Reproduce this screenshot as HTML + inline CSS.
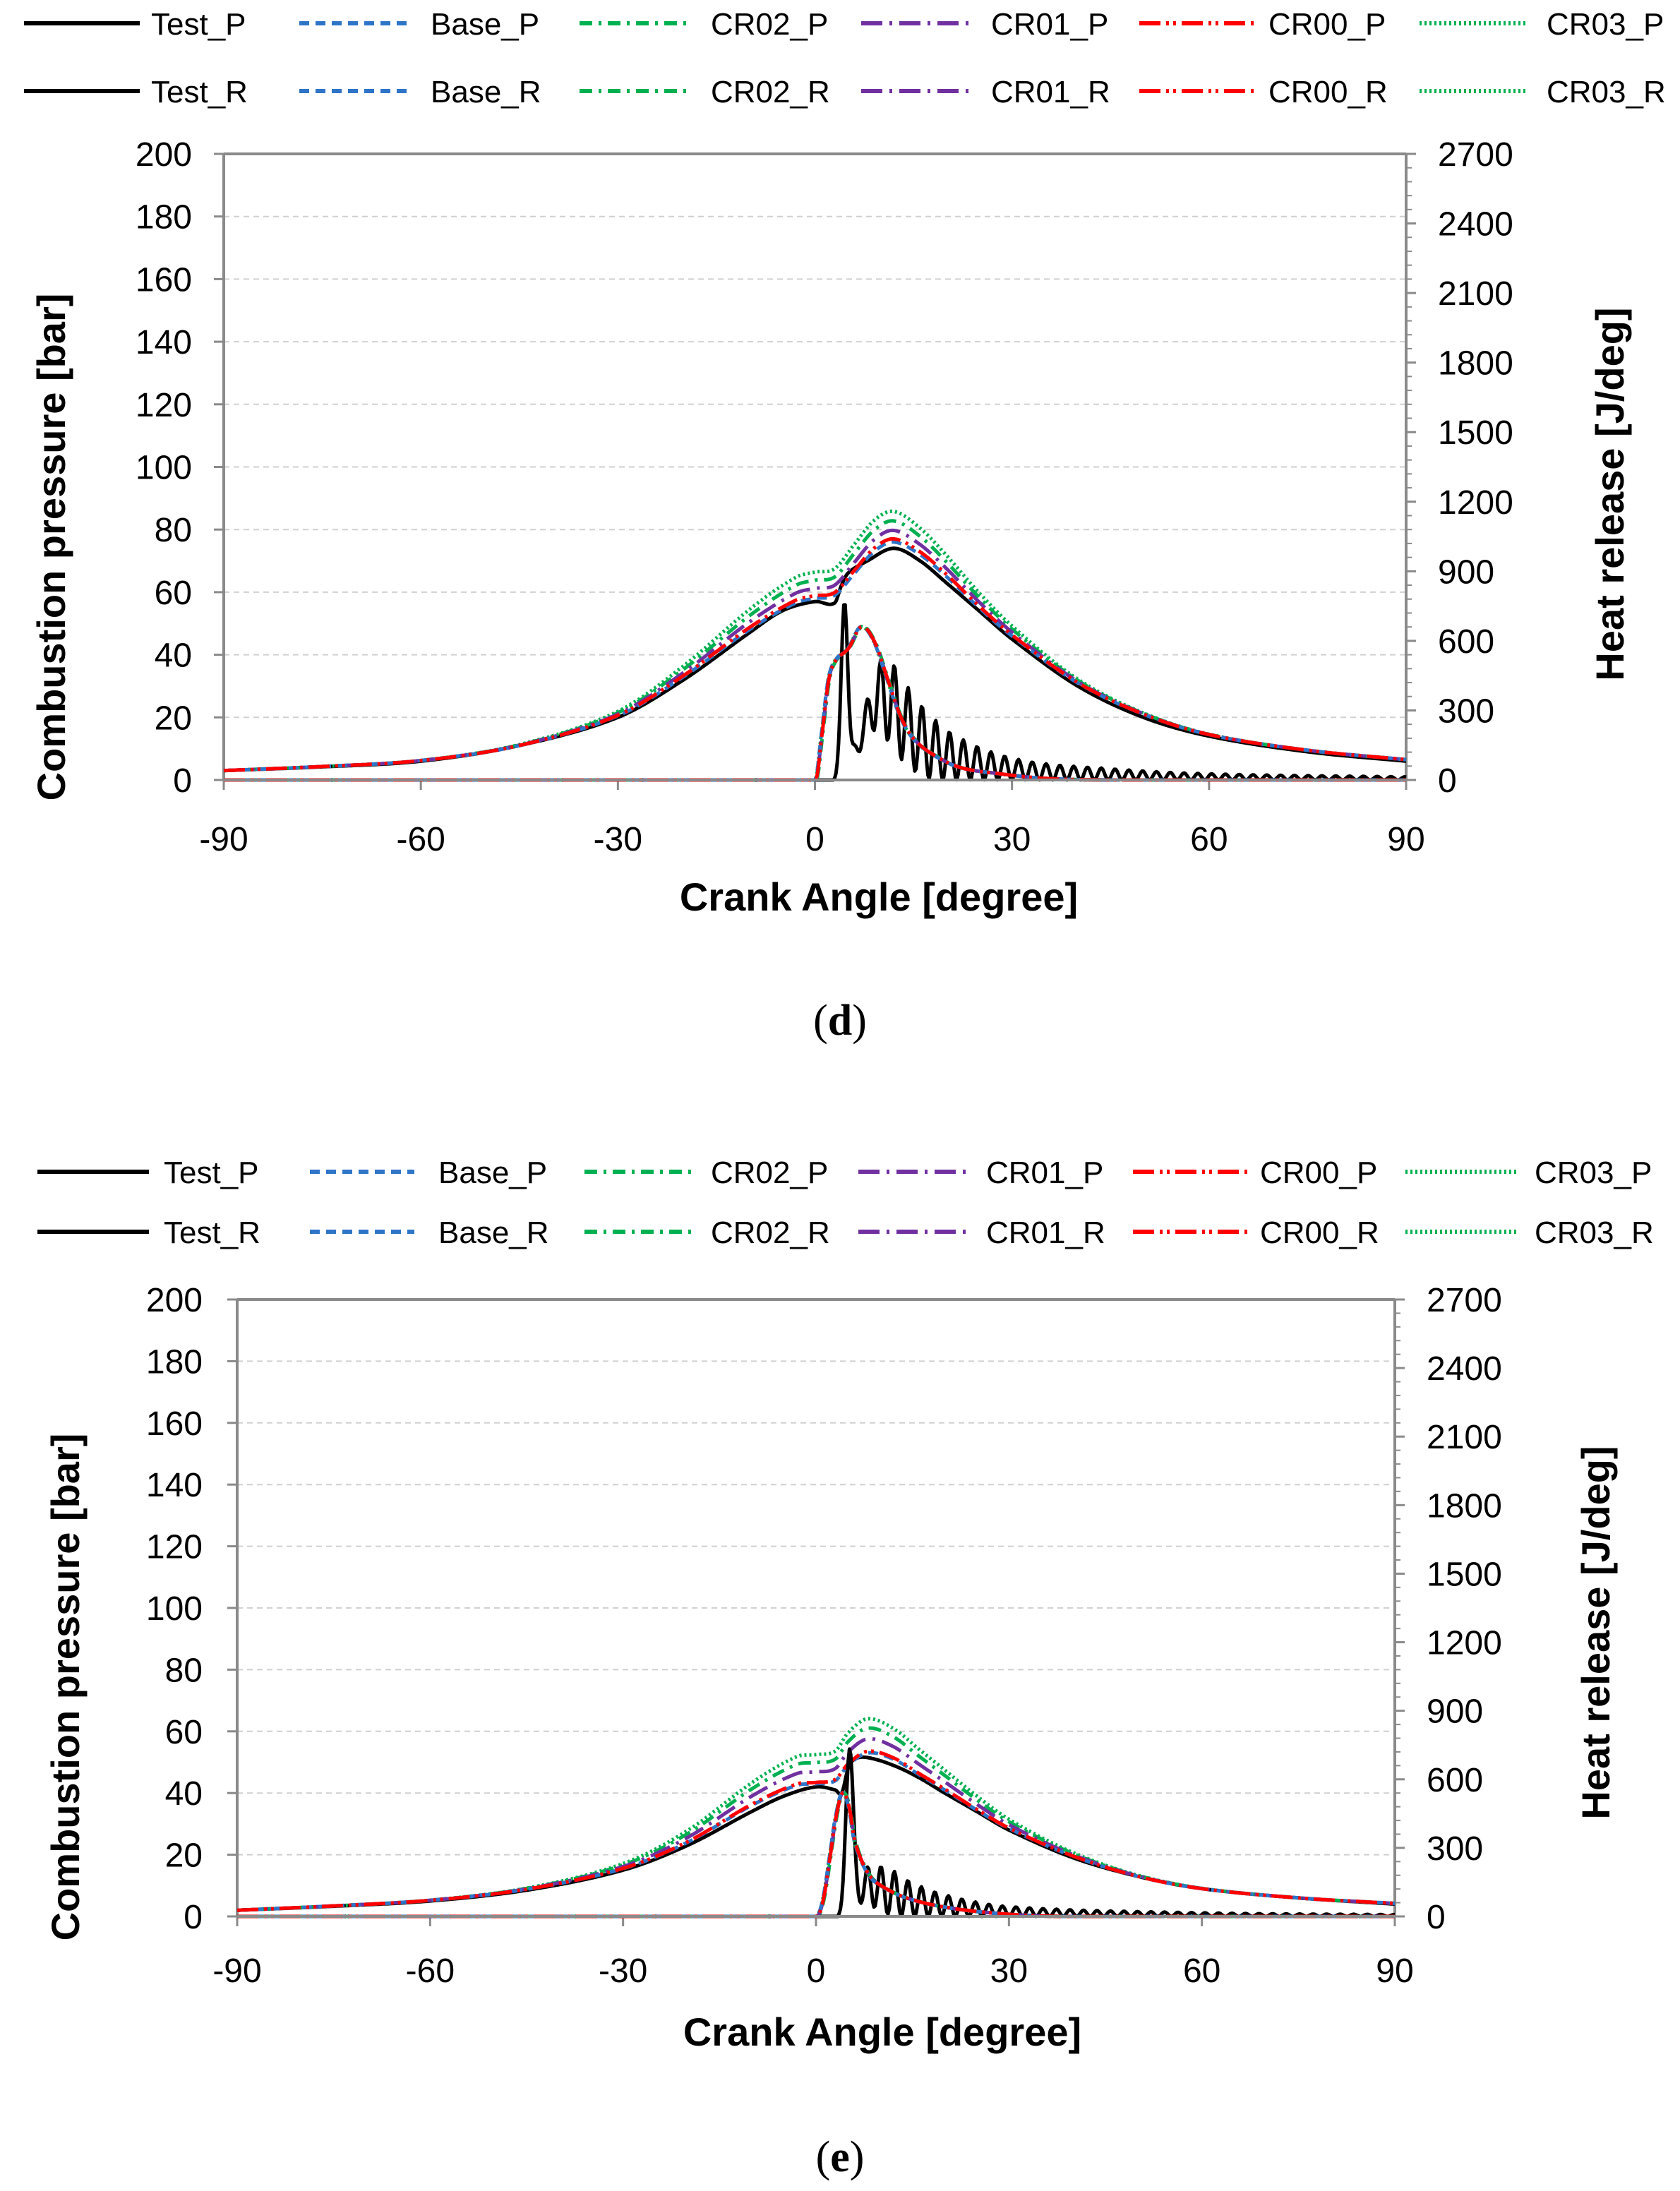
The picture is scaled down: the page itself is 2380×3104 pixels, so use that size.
<!DOCTYPE html>
<html><head><meta charset="utf-8"><style>
html,body{margin:0;padding:0;background:#fff;}
svg{display:block;}
text{font-family:"Liberation Sans",sans-serif;fill:#000;}
.tk{font-size:48px;}
.lg{font-size:44px;}
.tt{font-size:56px;font-weight:bold;}
.cap{font-family:"Liberation Serif",serif;font-size:62px;}
</style></head><body>
<svg id="s" width="2380" height="3104" viewBox="0 0 2380 3104" xmlns="http://www.w3.org/2000/svg"></svg>
<script>
const S=document.getElementById('s');let H='';
const ST={
 Test:{c:'#000',d:'',w:5},
 Base:{c:'#2e75c8',d:'14,9',w:5},
 CR02:{c:'#00b050',d:'18,9,4,9',w:5},
 CR01:{c:'#7030a0',d:'30,10,4,10',w:5},
 CR00:{c:'#ff0000',d:'30,8,4,6,4,8',w:5},
 CR03:{c:'#00b050',d:'3,4',w:5}
};
function cr(pts,x){
 if(x<=pts[0][0])return pts[0][1];if(x>=pts[pts.length-1][0])return pts[pts.length-1][1];
 let i=0;while(i<pts.length-2&&pts[i+1][0]<x)i++;
 const p1=pts[i],p2=pts[i+1],p0=pts[i-1]||p1,p3=pts[i+2]||p2;
 const t=(x-p1[0])/(p2[0]-p1[0]);
 const m1=(p2[1]-p0[1])/((p2[0]-p0[0])||1)*(p2[0]-p1[0]);
 const m2=(p3[1]-p1[1])/((p3[0]-p1[0])||1)*(p2[0]-p1[0]);
 const t2=t*t,t3=t2*t;
 return (2*t3-3*t2+1)*p1[1]+(t3-2*t2+t)*m1+(-2*t3+3*t2)*p2[1]+(t3-t2)*m2;
}
function chart(c){
 const X=t=>c.L+(t+90)/180*(c.R-c.L), Y=v=>c.B-v/200*(c.B-c.T);
 for(let v=20;v<=180;v+=20)H+=`<line x1="${c.L}" x2="${c.R}" y1="${Y(v)}" y2="${Y(v)}" stroke="#d0d0d0" stroke-width="2" stroke-dasharray="8,6"/>`;
 H+=`<line x1="${c.L}" x2="${c.R}" y1="${c.T}" y2="${c.T}" stroke="#8a8a8a" stroke-width="4"/>`;
 H+=`<line x1="${c.L}" x2="${c.L}" y1="${c.T}" y2="${c.B}" stroke="#8a8a8a" stroke-width="4"/>`;
 H+=`<line x1="${c.R}" x2="${c.R}" y1="${c.T}" y2="${c.B}" stroke="#8a8a8a" stroke-width="4"/>`;
 for(let v=0;v<=200;v+=20){H+=`<line x1="${c.L-14}" x2="${c.L}" y1="${Y(v)}" y2="${Y(v)}" stroke="#8a8a8a" stroke-width="3"/>`;
  H+=`<text class="tk" x="${c.yl}" y="${Y(v)+17}" text-anchor="end">${v}</text>`;}
 for(let k=0;k<=9;k++){const y=c.B-k/9*(c.B-c.T);H+=`<line x1="${c.R}" x2="${c.R+14}" y1="${y}" y2="${y}" stroke="#8a8a8a" stroke-width="3"/>`;
  H+=`<text class="tk" x="${c.R+45}" y="${y+17}">${k*300}</text>`;
  if(k<9)for(let m=1;m<5;m++){const yy=y-m/5*(c.B-c.T)/9;H+=`<line x1="${c.R}" x2="${c.R+8}" y1="${yy}" y2="${yy}" stroke="#8a8a8a" stroke-width="2"/>`;}}
 for(let t=-90;t<=90;t+=30){H+=`<line x1="${X(t)}" x2="${X(t)}" y1="${c.B}" y2="${c.B+14}" stroke="#8a8a8a" stroke-width="3"/>`;
  H+=`<text class="tk" x="${X(t)}" y="${c.xly}" text-anchor="middle">${t}</text>`;}
 H+=`<text class="tt" x="${c.xtx}" y="${c.xty}" text-anchor="middle">Crank Angle [degree]</text>`;
 H+=`<text class="tt" transform="translate(${c.ytx},${c.yty}) rotate(-90)" text-anchor="middle">Combustion pressure [bar]</text>`;
 H+=`<text class="tt" transform="translate(${c.rtx},${c.rty}) rotate(-90)" text-anchor="middle">Heat release [J/deg]</text>`;
 const path=(f,s)=>{let d='';for(let t=-90;t<=90.001;t+=0.2){const v=Math.max(0,f(t));d+=(d?'L':'M')+X(t).toFixed(1)+','+Y(v).toFixed(1);}
  H+=`<path d="${d}" fill="none" stroke="${s.c}" stroke-width="${s.w}" ${s.d?`stroke-dasharray="${s.d}"`:''} stroke-linejoin="round"/>`;};
 const order=['CR03','CR02','CR01','Base','CR00'];
 path(t=>cr(c.testP,t),ST.Test);
 order.forEach(n=>{const k=c.k[n];path(t=>{const v=cr(c.simP,t);const w=Math.exp(-Math.pow(t/35,2));return v*(1+(k-1)*w);},ST[n]);});
 path(c.testR,ST.Test);
 order.forEach((n,i)=>{const sh=c.rsh[i];path(t=>cr(c.simR,t-sh),ST[n]);});
 H+=`<line x1="${c.L}" x2="${c.R}" y1="${c.B}" y2="${c.B}" stroke="#8a8a8a" stroke-width="4"/>`;
 const names=['Test','Base','CR02','CR01','CR00','CR03'];
 [['_P',c.ly[0]],['_R',c.ly[1]]].forEach(([suf,y])=>{names.forEach((n,i)=>{const s=ST[n],L=c.lx[i];
  H+=`<line x1="${L[0]}" x2="${L[1]}" y1="${y}" y2="${y}" stroke="${s.c}" stroke-width="6" ${s.d?`stroke-dasharray="${s.d}"`:''}/>`;
  H+=`<text class="lg" x="${L[2]}" y="${y+16}">${n+suf}</text>`;});});
}
const bd=[[3,0],[5,4],[7,14],[9,25],[11,26],[13,20],[16,13],[20,8],[30,3.5],[45,1.8],[60,1],[90,0.5]];
function testRd(t){if(t<3)return 0;
 let r=55*Math.exp(-Math.pow((t-4.5)/0.7,2));
 const a=Math.min(1,0.3+Math.max(0,t-8)/14);
 r+=cr(bd,t)*(1+a*Math.cos(2*Math.PI*(t-10)/2.1));
 return r;}
const be=[[4,0],[6,5],[8,10],[10,9],[14,6],[20,3.5],[30,1.6],[60,0.6],[90,0.3]];
function testRe(t){if(t<3.5)return 0;
 let r=52*Math.exp(-Math.pow((t-5.2)/0.8,2));
 const a=Math.min(1,0.5+Math.max(0,t-7)/10);
 r+=cr(be,t)*(1+a*Math.cos(2*Math.PI*(t-8)/2.1));
 return r;}
chart({L:317,R:1992,T:218,B:1105,yl:272,xly:1205,xtx:1245,xty:1290,ytx:92,yty:775,rtx:2300,rty:700,
 ly:[33,129],lx:[[34,198,214],[424,580,610],[821,976,1007],[1220,1381,1404],[1614,1777,1797],[2011,2163,2191]],
 testP:[[-90,3],[-75,4.2],[-60,6],[-45,11],[-30,20],[-20,32],[-10,47],[-5,54],[0,57],[3,56.5],[4,62],[5,66],[8,70],[12,74],[16,70],[20,63],[25,54],[30,45],[40,30],[50,20],[60,14],[75,9],[90,6]],
 simP:[[-90,3],[-75,4.3],[-60,6.2],[-45,11],[-30,20.5],[-20,33],[-10,48],[-3,56.5],[0,58],[3,59],[6,66],[9,73],[12,76],[16,72],[20,65],[25,55],[30,46],[40,31],[50,21],[60,14.5],[75,9.5],[90,6.5]],
 k:{Base:1.0,CR00:1.015,CR01:1.055,CR02:1.1,CR03:1.145},rsh:[0,0.2,0.1,0,0.1],
 simR:[[-90,0],[0,0],[1,15],[2,32],[3,38],[5,42],[7,49],[9,44],[11,32],[13,20],[15,13],[18,8],[22,4],[28,2],[35,0.5],[45,0],[90,0]],
 testR:testRd});
chart({L:336,R:1976,T:1841,B:2715,yl:287,xly:2808,xtx:1250,xty:2898,ytx:112,yty:2390,rtx:2280,rty:2313,
 ly:[1660,1745],lx:[[53,211,232],[439,587,621],[828,984,1007],[1216,1376,1397],[1605,1767,1785],[1991,2151,2174]],
 testP:[[-90,2],[-75,3.3],[-60,5],[-45,8.5],[-30,15],[-20,23],[-10,34],[-5,39],[0,42],[3,41],[4,40],[5,48],[6,51],[8,51.5],[12,49],[16,45],[20,40],[25,34],[30,28],[40,19],[50,13],[60,9],[75,6],[90,4]],
 simP:[[-90,2],[-75,3.4],[-60,5.2],[-45,8.8],[-30,15.5],[-20,24],[-10,36],[-3,42.5],[0,43],[3,44],[5,49],[8,53],[12,51],[16,46],[20,41],[25,34.5],[30,28.5],[40,19.5],[50,13],[60,9],[75,6],[90,4.2]],
 k:{Base:1.0,CR00:1.01,CR01:1.09,CR02:1.16,CR03:1.22},rsh:[0,0.2,0.1,0,0.1],
 simR:[[-90,0],[0,0],[1,5],[2,18],[3,32],[4,40],[5,36],[6,24],[8,14],[10,10],[14,6],[20,3],[28,1],[38,0],[90,0]],
 testR:testRe});
H+=`<text class="cap" x="1190" y="1466" text-anchor="middle">(<tspan font-weight="bold">d</tspan>)</text>`;
H+=`<text class="cap" x="1190" y="3076" text-anchor="middle">(<tspan font-weight="bold">e</tspan>)</text>`;
S.innerHTML=H;
</script>
</body></html>
